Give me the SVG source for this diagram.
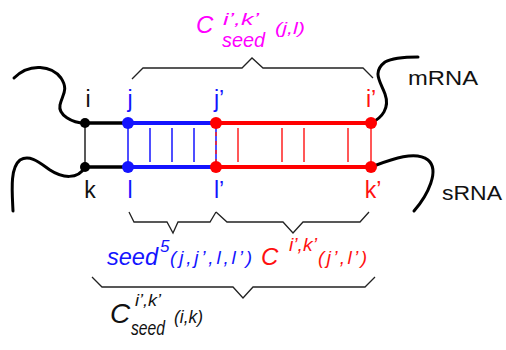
<svg xmlns="http://www.w3.org/2000/svg" width="506" height="350" viewBox="0 0 506 350">
<style>
.t{font-family:"Liberation Sans",Arial,sans-serif}
.it{font-family:"Liberation Sans",Arial,sans-serif;font-style:italic}
.blk{fill:#111}
.blu{fill:#1414ff}
.red{fill:#ff1010}
.mag{fill:#ff00ff}
.curve{fill:none;stroke:#000;stroke-width:3;stroke-linecap:round}
.brace{fill:none;stroke:#222;stroke-width:1.3}
.rungb{stroke:#1414ff;stroke-width:1.5}
.rungr{stroke:#ff2020;stroke-width:1.5}
</style>
<rect width="506" height="350" fill="#fff"/>
<g id="connectors">
  <path class="curve" d="M85,123 C72,123 58,115 60,105 C62,95 69,90 61,78 C52,66 30,62 14,78"/>
  <path class="curve" d="M85,167 C78,180 62,178 50,170 C40,163 30,154 20,160 C10,168 12,190 13,211"/>
  <path class="curve" d="M371,123 C382,118 390,108 385,94 C380,81 372,72 385,62 C392,58 405,57 418,57"/>
  <path class="curve" d="M371,167 C390,160 415,150 428,160 C440,170 428,195 414,211"/>
  <line x1="85" y1="123" x2="85" y2="167" stroke="#222" stroke-width="1.5"/>
  <line x1="128" y1="123" x2="128" y2="167" class="rungb"/>
  <line x1="216" y1="123" x2="216" y2="167" class="rungb"/>
  <line x1="216" y1="123" x2="216" y2="167" stroke="#ff2020" stroke-width="1.5" stroke-dasharray="4 5"/>
  <line x1="371" y1="123" x2="371" y2="167" class="rungr"/>
  <line x1="150" y1="128" x2="150" y2="162" class="rungb"/>
  <line x1="172" y1="128" x2="172" y2="162" class="rungb"/>
  <line x1="194" y1="128" x2="194" y2="162" class="rungb"/>
  <line x1="238" y1="128" x2="238" y2="162" class="rungr"/>
  <line x1="282" y1="128" x2="282" y2="162" class="rungr"/>
  <line x1="304" y1="128" x2="304" y2="162" class="rungr"/>
  <line x1="348" y1="128" x2="348" y2="162" class="rungr"/>
  <line x1="85" y1="123" x2="128" y2="123" stroke="#000" stroke-width="3.5"/>
  <line x1="128" y1="123" x2="216" y2="123" stroke="#1414ff" stroke-width="4"/>
  <line x1="216" y1="123" x2="371" y2="123" stroke="#ff0000" stroke-width="4"/>
  <line x1="85" y1="167" x2="128" y2="167" stroke="#000" stroke-width="3.5"/>
  <line x1="128" y1="167" x2="216" y2="167" stroke="#1414ff" stroke-width="4"/>
  <line x1="216" y1="167" x2="371" y2="167" stroke="#ff0000" stroke-width="4"/>
  <path class="brace" d="M132,79 L143,68 L242,68 L252,58 L263,68 L363,68 L373,78"/>
  <path class="brace" d="M129,212 L134,222 L167,222 L173,233 L178,222 L210,222 L216,212"/>
  <path class="brace" d="M216,212 L227,222 L283,222 L293,233 L303,222 L360,222 L369,212"/>
  <path class="brace" d="M92,277 L102,287 L233,287 L243,298 L253,287 L365,287 L375,277"/>
</g>
<g id="node-i"><circle cx="85" cy="123" r="5" fill="#000"/><text class="t blk" x="88" y="107" font-size="23" text-anchor="middle">i</text></g>
<g id="node-k"><circle cx="85" cy="167" r="5" fill="#000"/><text class="t blk" x="90" y="198" font-size="23" text-anchor="middle">k</text></g>
<g id="node-j"><circle cx="128" cy="123" r="6" fill="#1414ff"/><text class="t blu" x="130" y="107" font-size="23" text-anchor="middle">j</text></g>
<g id="node-l"><circle cx="128" cy="167" r="6" fill="#1414ff"/><text class="t blu" x="130" y="198" font-size="23" text-anchor="middle">l</text></g>
<g id="node-jp"><circle cx="216" cy="123" r="6" fill="#ff0000"/><text class="t blu" x="219" y="107" font-size="23" text-anchor="middle">j’</text></g>
<g id="node-lp"><circle cx="216" cy="167" r="6" fill="#ff0000"/><text class="t blu" x="219" y="198" font-size="23" text-anchor="middle">l’</text></g>
<g id="node-ip"><circle cx="371" cy="123" r="6" fill="#ff0000"/><text class="t red" x="371" y="107" font-size="23" text-anchor="middle">i’</text></g>
<g id="node-kp"><circle cx="371" cy="167" r="6" fill="#ff0000"/><text class="t red" x="373" y="198" font-size="23" text-anchor="middle">k’</text></g>
<g id="label-mrna"><text class="t blk" x="408" y="85" font-size="21" textLength="70" lengthAdjust="spacingAndGlyphs">mRNA</text></g>
<g id="label-srna"><text class="t blk" x="442" y="200" font-size="21" textLength="60" lengthAdjust="spacingAndGlyphs">sRNA</text></g>
<g id="label-top">
  <text class="it mag" x="196" y="33" font-size="24">C</text>
  <text class="it mag" x="223" y="25" font-size="17" textLength="36" lengthAdjust="spacingAndGlyphs">i’,k’</text>
  <text class="it mag" x="222" y="47" font-size="21" textLength="43" lengthAdjust="spacingAndGlyphs">seed</text>
  <text class="it mag" x="275" y="34" font-size="17" textLength="30" lengthAdjust="spacingAndGlyphs">(j,l)</text>
</g>
<g id="label-seed">
  <text class="it blu" x="107" y="265" font-size="24" textLength="51" lengthAdjust="spacingAndGlyphs">seed</text>
  <text class="it blu" x="160" y="252" font-size="17">5</text>
  <text class="it blu" x="170" y="264" font-size="19" textLength="82" lengthAdjust="spacing">(j,j’,l,l’)</text>
</g>
<g id="label-c">
  <text class="it red" x="261" y="265" font-size="24">C</text>
  <text class="it red" x="289" y="251" font-size="18" textLength="28" lengthAdjust="spacingAndGlyphs">i’,k’</text>
  <text class="it red" x="318" y="264" font-size="19" textLength="49" lengthAdjust="spacing">(j’,l’)</text>
</g>
<g id="label-bottom">
  <text class="it blk" x="110" y="323" font-size="28">C</text>
  <text class="it blk" x="135" y="306" font-size="17" textLength="26" lengthAdjust="spacingAndGlyphs">i’,k’</text>
  <text class="it blk" x="131" y="335" font-size="21" textLength="34" lengthAdjust="spacingAndGlyphs">seed</text>
  <text class="it blk" x="174" y="323" font-size="18" textLength="29" lengthAdjust="spacingAndGlyphs">(i,k)</text>
</g>
</svg>
